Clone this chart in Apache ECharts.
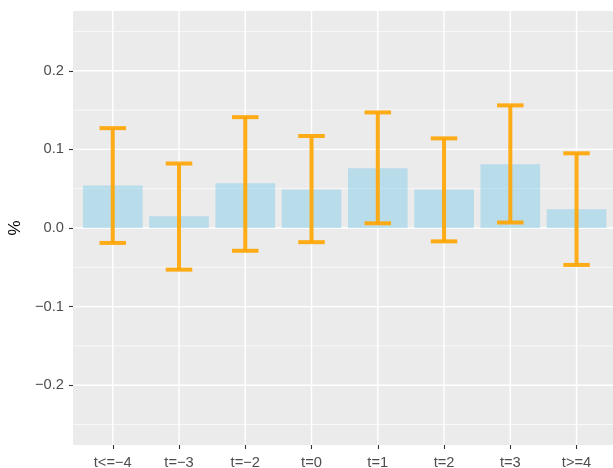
<!DOCTYPE html>
<html>
<head>
<meta charset="utf-8">
<script src="https://cdn.jsdelivr.net/npm/echarts@6/dist/echarts.min.js"></script>
<style>
html,body{margin:0;padding:0;background:#fff;}
#chart{width:613px;height:468px;}
</style>
</head>
<body>
<div id="chart"></div>
<script>
const categories = ['t<=-4', 't=-3', 't=-2', 't=0', 't=1', 't=2', 't=3', 't>=4'];
const means = [0.054, 0.015, 0.057, 0.049, 0.076, 0.049, 0.081, 0.024];
const lower = [-0.019, -0.053, -0.029, -0.018, 0.006, -0.017, 0.007, -0.047];
const upper = [0.127, 0.082, 0.141, 0.117, 0.147, 0.114, 0.156, 0.095];
const yTicks = [-0.2, -0.1, 0, 0.1, 0.2];
const yMinor = [-0.25, -0.15, -0.05, 0.05, 0.15, 0.25];
const yMin = -0.276, yMax = 0.276;

const xIdx = categories.map((_, i) => i);
const fmtMinus = s => String(s).replace(/-/g, '\u2212');
const FONT = 'Liberation Sans, Arial, sans-serif';

const chart = echarts.init(document.getElementById('chart'), null, {renderer: 'canvas'});

const barData = means.map((m, i) => [i, m]);
const errData = means.map((m, i) => [i, lower[i], upper[i]]);
// gridline data: [orientation (0 = horizontal, 1 = vertical), value, major?]
const gridData = []
  .concat(yMinor.map(v => [0, v, 0]))
  .concat(yTicks.map(v => [0, v, 1]))
  .concat(xIdx.map(v => [1, v, 1]));

chart.setOption({
  animation: false,
  backgroundColor: '#ffffff',
  grid: {
    left: 73, right: 0, top: 11, bottom: 23,
    show: true, backgroundColor: '#EBEBEB', borderWidth: 0,
    containLabel: false, outerBoundsMode: 'none'
  },
  xAxis: {
    type: 'value', min: -0.6, max: 7.55,
    axisLine: {show: false, onZero: false},
    axisTick: {show: true, length: 4, customValues: xIdx, lineStyle: {color: '#333333', width: 1.1}},
    axisLabel: {customValues: xIdx, formatter: v => fmtMinus(categories[Math.round(v)]),
      color: '#4D4D4D', fontSize: 14.7, fontFamily: FONT, margin: 10},
    splitLine: {show: false}
  },
  yAxis: {
    type: 'value', min: yMin, max: yMax,
    name: '%', nameLocation: 'middle', nameRotate: 90, nameGap: 46,
    nameTextStyle: {color: '#000000', fontSize: 17, fontFamily: FONT},
    axisLine: {show: false, onZero: false},
    axisTick: {show: true, length: 4, customValues: yTicks, lineStyle: {color: '#333333', width: 1.1}},
    axisLabel: {customValues: yTicks, formatter: v => fmtMinus(v.toFixed(1)),
      color: '#4D4D4D', fontSize: 14.7, fontFamily: FONT, margin: 9},
    splitLine: {show: false}
  },
  series: [{
    type: 'custom',
    z: 1,
    silent: true,
    data: gridData,
    clip: true,
    renderItem: (params, api) => {
      const cs = params.coordSys;
      const o = api.value(0), v = api.value(1), major = api.value(2);
      const w = major ? 1.4 : 0.7;
      if (o === 0) {
        const p = api.coord([0, v]);
        return {type: 'line', shape: {x1: cs.x, y1: p[1], x2: cs.x + cs.width, y2: p[1]},
          style: {stroke: '#ffffff', lineWidth: w}};
      }
      const p = api.coord([v, 0]);
      return {type: 'line', shape: {x1: p[0], y1: cs.y, x2: p[0], y2: cs.y + cs.height},
        style: {stroke: '#ffffff', lineWidth: w}};
    }
  }, {
    type: 'custom',
    z: 2,
    data: barData,
    renderItem: (params, api) => {
      const x = api.value(0), v = api.value(1);
      const top = api.coord([x, v]);
      const base = api.coord([x, 0]);
      const w = api.size([0.9, 0])[0];
      return {
        type: 'rect',
        shape: {x: top[0] - w / 2, y: Math.min(top[1], base[1]), width: w, height: Math.abs(base[1] - top[1])},
        style: {fill: 'rgba(135,206,235,0.5)'}
      };
    }
  }, {
    type: 'custom',
    z: 3,
    data: errData,
    renderItem: (params, api) => {
      const x = api.value(0);
      const lo = api.coord([x, api.value(1)]);
      const hi = api.coord([x, api.value(2)]);
      const hw = api.size([0.4, 0])[0] / 2;
      const st = {stroke: 'rgba(255,165,0,0.9)', lineWidth: 4, lineCap: 'butt'};
      return {
        type: 'group',
        children: [
          {type: 'line', shape: {x1: lo[0], y1: lo[1], x2: hi[0], y2: hi[1]}, style: st},
          {type: 'line', shape: {x1: hi[0] - hw, y1: hi[1], x2: hi[0] + hw, y2: hi[1]}, style: st},
          {type: 'line', shape: {x1: lo[0] - hw, y1: lo[1], x2: lo[0] + hw, y2: lo[1]}, style: st}
        ]
      };
    }
  }]
});
</script>
</body>
</html>
